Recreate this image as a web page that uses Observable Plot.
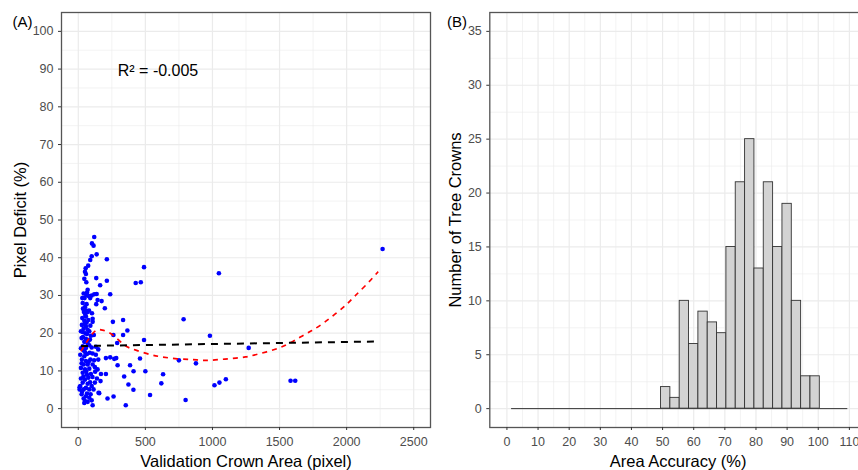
<!DOCTYPE html>
<html>
<head>
<meta charset="utf-8">
<script src="https://cdn.jsdelivr.net/npm/d3@7"></script>
<script src="https://cdn.jsdelivr.net/npm/@observablehq/plot@0.6"></script>
<style>
  html, body { margin: 0; padding: 0; background: #fff; overflow: hidden; }
  #wrap { position: relative; width: 858px; height: 470px; overflow: hidden; background: #fff; }
  #panelA, #panelB { position: absolute; top: 0; }
  #panelA { left: 0; width: 430px; }
  #panelB { left: 430px; width: 436px; }
</style>
</head>
<body>
<div id="wrap"><div id="panelA"></div><div id="panelB"></div></div>
<script>
// ---------- Panel A data ----------
const crownArea = [
  2268,1048,490,428,466,785,981,1270,877,750,
  490,500,632,619,1015,1052,1100,1582,1617,800,
  535,354,411,412,386,374,342,334,366,334,
  290,283,293,258,262,268,238,213,213,198,
  238,206,206,218,263,460,174,163,149,169,
  166,151,119,102,114,137,100,89,74,55,
  50,57,45,134,65,59,40,74,100,119,
  137,30,47,89,144,33,62,134,50,62,
  42,70,102,52,57,107,45,107,62,27,
  57,40,70,33,65,82,94,25,57,87,
  45,70,82,33,57,40,131,116,107,131,
  149,100,15,45,27,57,40,70,20,50,
  82,107,124,144,33,65,94,139,124,20,
  50,33,70,15,57,40,82,100,25,57,
  40,82,50,70,100,107,10,10,114,106,
  126,156,30,75,48,90,35,75,50,65,
  25,90,60,38,75,88,28,65,92,45,
  78,53,35,80,60,70,20,85,118,20
];
const pixelDeficit = [
  42.3,35.9,37.5,33.3,33.5,23.7,19.3,16.1,12.0,12.8,
  18.2,9.9,9.1,6.7,6.2,6.9,7.8,7.4,7.4,2.3,
  3.6,0.9,5.0,9.9,11.5,6.4,8.5,23.5,20.7,19.5,
  17.4,13.4,11.5,23.0,19.5,13.2,30.3,33.9,39.6,26.6,
  13.6,13.4,9.2,2.7,3.2,13.3,28.5,32.7,13.0,9.2,
  7.3,4.2,45.5,43.8,43.2,40.9,40.4,39.4,37.9,37.2,
  36.3,35.7,34.4,34.6,30.8,30.2,30.5,29.9,30.0,30.3,
  30.4,29.3,29.3,29.3,28.8,28.0,27.7,27.7,26.9,25.9,
  25.6,25.6,25.3,24.9,24.4,23.8,23.3,23.0,22.8,22.2,
  21.8,21.2,20.9,20.3,19.8,20.5,19.3,18.7,18.5,18.3,
  17.7,17.2,16.8,16.5,16.1,15.4,16.4,19.5,14.6,14.3,
  15.7,16.2,14.3,13.9,13.0,12.6,11.7,11.7,10.8,10.4,
  10.6,11.7,11.0,10.4,9.5,9.0,9.2,8.0,6.9,8.0,
  7.7,6.9,6.6,6.0,5.5,5.1,5.1,6.0,3.8,3.3,
  2.7,2.9,2.0,1.8,2.2,0.9,5.7,5.1,5.1,8.4,
  9.8,4.1,24.0,23.5,22.5,22.0,19.0,18.0,15.0,14.5,
  12.0,13.0,9.8,8.5,8.2,7.0,4.5,4.0,3.8,1.5,
  12.4,20.0,26.5,26.0,33.5,31.5,16.0,14.8,12.8,20.5
];
// red dashed smooth fit
const smoothX = [20,82,131,180,255,342,429,540,627,738,850,949,1048,1147,1246,1345,1456,1556,1655,1741,1828,1915,1996,2063,2145,2235];
const smoothY = [15.2,18.7,20.7,20.8,19.6,16.9,15.5,14.3,13.7,13.2,13.0,12.8,13.0,13.3,13.7,14.5,15.6,17.0,19.0,20.7,22.7,25.1,27.5,29.9,32.8,36.3];
// black dashed linear fit
const linearX = [20, 2240];
const linearY = [16.6, 17.8];

const xTicksA = [0,500,1000,1500,2000,2500];
const xMinorA = [250,750,1250,1750,2250];
const yTicksA = [0,10,20,30,40,50,60,70,80,90,100];
const yMinorA = [5,15,25,35,45,55,65,75,85,95];
const r2Label = "R² = -0.005";
const xTitleA = "Validation Crown Area (pixel)";
const yTitleA = "Pixel Deficit (%)";
const tagA = "(A)";

// ---------- Panel B data ----------
const binLower = [1.5,4.5,7.5,10.5,13.5,16.5,19.5,22.5,25.5,28.5,31.5,34.5,37.5,40.5,43.5,46.5,
                  49.5,52.5,55.5,58.5,61.5,64.5,67.5,70.5,73.5,76.5,79.5,82.5,85.5,88.5,91.5,94.5,97.5,
                  100.5,103.5,106.5];
const binUpper = [4.5,7.5,10.5,13.5,16.5,19.5,22.5,25.5,28.5,31.5,34.5,37.5,40.5,43.5,46.5,49.5,
                  52.5,55.5,58.5,61.5,64.5,67.5,70.5,73.5,76.5,79.5,82.5,85.5,88.5,91.5,94.5,97.5,100.5,
                  103.5,106.5,109.5];
const binCounts = [0,0,0,0,0,0,0,0,0,0,0,0,0,0,0,0,
                   2,1,10,6,9,8,7,15,21,25,13,21,15,19,10,3,3,
                   0,0,0];
const xTicksB = [0,10,20,30,40,50,60,70,80,90,100,110];
const xMinorB = [5,15,25,35,45,55,65,75,85,95,105,115];
const yTicksB = [0,5,10,15,20,25,30,35];
const yMinorB = [2.5,7.5,12.5,17.5,22.5,27.5,32.5];
const xTitleB = "Area Accuracy (%)";
const yTitleB = "Number of Tree Crowns";
const tagB = "(B)";

// ---------- build ----------
const font = "'Liberation Sans', Arial, Helvetica, sans-serif";
const gridCol = "#ebebeb";
const tickText = "#4d4d4d";
const plain = d => String(d);
const points = crownArea.map((x, i) => ({x, y: pixelDeficit[i]}));
const smooth = smoothX.map((x, i) => ({x, y: smoothY[i]}));
const linear = linearX.map((x, i) => ({x, y: linearY[i]}));
const bins = binCounts.map((c, i) => ({lo: binLower[i], hi: binUpper[i], count: c}));
const bars = bins.filter(d => d.count > 0);
const baseRule = [{lo: binLower[0], hi: binUpper[binUpper.length - 1]}];

const styleObj = {fontFamily: font, background: "transparent", overflow: "visible", maxWidth: "none"};

const plotA = Plot.plot({
  width: 430, height: 470,
  marginLeft: 61, marginRight: 0, marginTop: 12, marginBottom: 43,
  x: {domain: [-125, 2625], label: null},
  y: {domain: [-5, 105], label: null},
  style: styleObj,
  marks: [
    Plot.ruleX(xMinorA, {stroke: gridCol, strokeWidth: 0.6}),
    Plot.ruleY(yMinorA, {stroke: gridCol, strokeWidth: 0.6}),
    Plot.ruleX(xTicksA, {stroke: gridCol, strokeWidth: 1.2}),
    Plot.ruleY(yTicksA, {stroke: gridCol, strokeWidth: 1.2}),
    Plot.dot(points, {x: "x", y: "y", r: 2.3, fill: "#0000ff", stroke: null}),
    Plot.line(smooth, {x: "x", y: "y", curve: "natural", stroke: "#ff0000", strokeWidth: 1.7,
                       strokeDasharray: "5,5", strokeLinecap: "butt"}),
    Plot.line(linear, {x: "x", y: "y", stroke: "#000", strokeWidth: 2,
                       strokeDasharray: "7,6", strokeLinecap: "butt"}),
    Plot.frame({stroke: "#555", strokeWidth: 1.3}),
    Plot.axisX(xTicksA, {tickSize: 3, tickPadding: 7, fontSize: 12.5, color: tickText, stroke: "#333",
                         tickFormat: plain, label: null}),
    Plot.axisY(yTicksA, {tickSize: 3, tickPadding: 5, fontSize: 12.5, color: tickText, stroke: "#333",
                         tickFormat: plain, label: null}),
    Plot.text([xTitleA], {text: d => d, frameAnchor: "bottom", dy: 34, fontSize: 16.5, fill: "#000",
                          textAnchor: "middle", lineAnchor: "middle"}),
    Plot.text([yTitleA], {text: d => d, frameAnchor: "left", rotate: -90, dx: -41, fontSize: 16.5, fill: "#000",
                          textAnchor: "middle", lineAnchor: "middle"}),
    Plot.text([tagA], {text: d => d, frameAnchor: "top-left", dx: -39, dy: 9.5, fontSize: 15, fill: "#000",
                       textAnchor: "middle", lineAnchor: "middle"}),
    Plot.text([r2Label], {text: d => d, frameAnchor: "top-left", dx: 96.5, dy: 58, fontSize: 16, fill: "#000",
                          textAnchor: "middle", lineAnchor: "middle"})
  ]
});
document.getElementById("panelA").appendChild(plotA);

const plotB = Plot.plot({
  width: 436, height: 470,
  marginLeft: 59.3, marginRight: 0, marginTop: 12, marginBottom: 43,
  x: {domain: [-5.5, 115.5], label: null},
  y: {domain: [-1.75, 36.75], label: null},
  style: styleObj,
  marks: [
    Plot.ruleX(xMinorB, {stroke: gridCol, strokeWidth: 0.6}),
    Plot.ruleY(yMinorB, {stroke: gridCol, strokeWidth: 0.6}),
    Plot.ruleX(xTicksB, {stroke: gridCol, strokeWidth: 1.2}),
    Plot.ruleY(yTicksB, {stroke: gridCol, strokeWidth: 1.2}),
    Plot.ruleY(baseRule, {y: 0, x1: "lo", x2: "hi", stroke: "#333", strokeWidth: 1}),
    Plot.rect(bars, {x1: "lo", x2: "hi", y1: 0, y2: "count", fill: "#d3d3d3", stroke: "#333", strokeWidth: 0.9}),
    Plot.frame({stroke: "#555", strokeWidth: 1.3}),
    Plot.axisX(xTicksB, {tickSize: 3, tickPadding: 7, fontSize: 12.5, color: tickText, stroke: "#333",
                         tickFormat: plain, label: null}),
    Plot.axisY(yTicksB, {tickSize: 3, tickPadding: 5, fontSize: 12.5, color: tickText, stroke: "#333",
                         tickFormat: plain, label: null}),
    Plot.text([xTitleB], {text: d => d, frameAnchor: "bottom", dy: 34, fontSize: 16.5, fill: "#000",
                          textAnchor: "middle", lineAnchor: "middle"}),
    Plot.text([yTitleB], {text: d => d, frameAnchor: "left", rotate: -90, dx: -34.3, fontSize: 16.5, fill: "#000",
                          textAnchor: "middle", lineAnchor: "middle"}),
    Plot.text([tagB], {text: d => d, frameAnchor: "top-left", dx: -32.8, dy: 9.5, fontSize: 15, fill: "#000",
                       textAnchor: "middle", lineAnchor: "middle"})
  ]
});
document.getElementById("panelB").appendChild(plotB);
</script>
</body>
</html>
